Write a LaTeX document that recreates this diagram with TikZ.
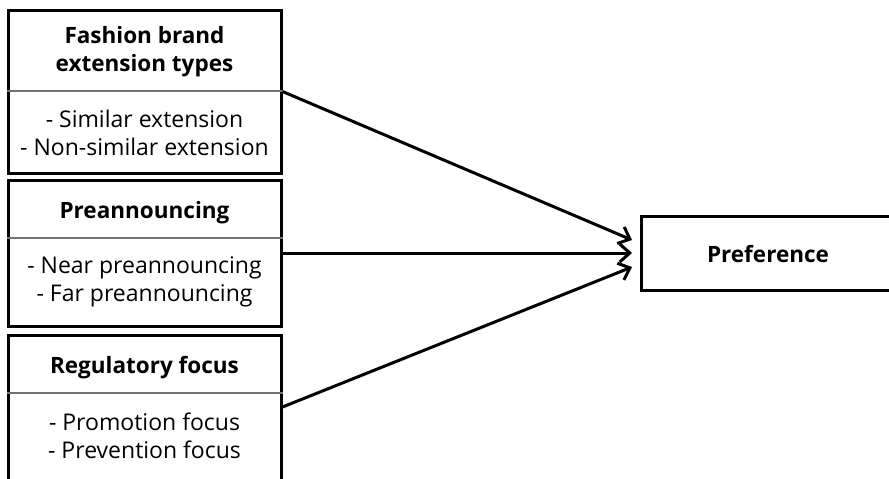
\documentclass[tikz,border=0pt]{standalone}
\usepackage{fontspec}
\setmainfont{Open Sans}
\usetikzlibrary{positioning, arrows.meta, calc}

\begin{document}
\begin{tikzpicture}[x=1pt,y=-1pt]
\tikzset{factor/.style={draw, line width=3pt, minimum width=273pt, inner sep=0pt},
  headtext/.style={font=\fontsize{22.5}{28}\selectfont\bfseries, align=center},
  bodytext/.style={font=\fontsize{23}{28}\selectfont, align=center},
  divider/.style={draw=black!55, line width=1.2pt},
  link/.style={line width=3pt, -{Straight Barb[length=10pt, width=18pt, line width=3pt]}}}
\useasboundingbox (0,0) rectangle (889,479);
\clip (0,0) rectangle (889,479);
% the three factor boxes
\node[factor, minimum height=163pt] (ext) at (144.5,91.5) {};
\node[factor, minimum height=146pt] (pre) at (144.5,253) {};
\node[factor, minimum height=150pt] (reg) at (144.5,410) {};
% dividers
\draw[divider] (ext.west |- 0,91) -- (ext.east |- 0,91);
\draw[divider] (pre.west |- 0,238) -- (pre.east |- 0,238);
\draw[divider] (reg.west |- 0,393) -- (reg.east |- 0,393);
% the texts
\node[headtext] (exthead) at (144.5,52) {Fashion brand\\extension types};
\node[bodytext] (extbody) at (144.5,133) {- Similar extension\\- Non-similar extension};
\node[headtext] (prehead) at (144.5,213) {Preannouncing};
\node[bodytext] (prebody) at (144.5,282) {- Near preannouncing\\- Far preannouncing};
\node[headtext] (reghead) at (144.5,368) {Regulatory focus};
\node[bodytext] (regbody) at (144.5,436) {- Promotion focus\\- Prevention focus};
% outcome
\node[factor, minimum width=260pt, minimum height=74pt, anchor=west] (pref) at (640,253) {};
\node[headtext] (preftext) at (768,254) {Preference};
% the links
\coordinate (in1) at ($(pref.west)+(-8,-13)$);
\coordinate (in2) at ($(pref.west)+(-8,0)$);
\coordinate (in3) at ($(pref.west)+(-8,14)$);
\draw[link] (ext.east) -- (in1);
\draw[link] (pre.east) -- (in2);
\draw[link] (reg.east |- 0,407) -- (in3);
\end{tikzpicture}
\end{document}
